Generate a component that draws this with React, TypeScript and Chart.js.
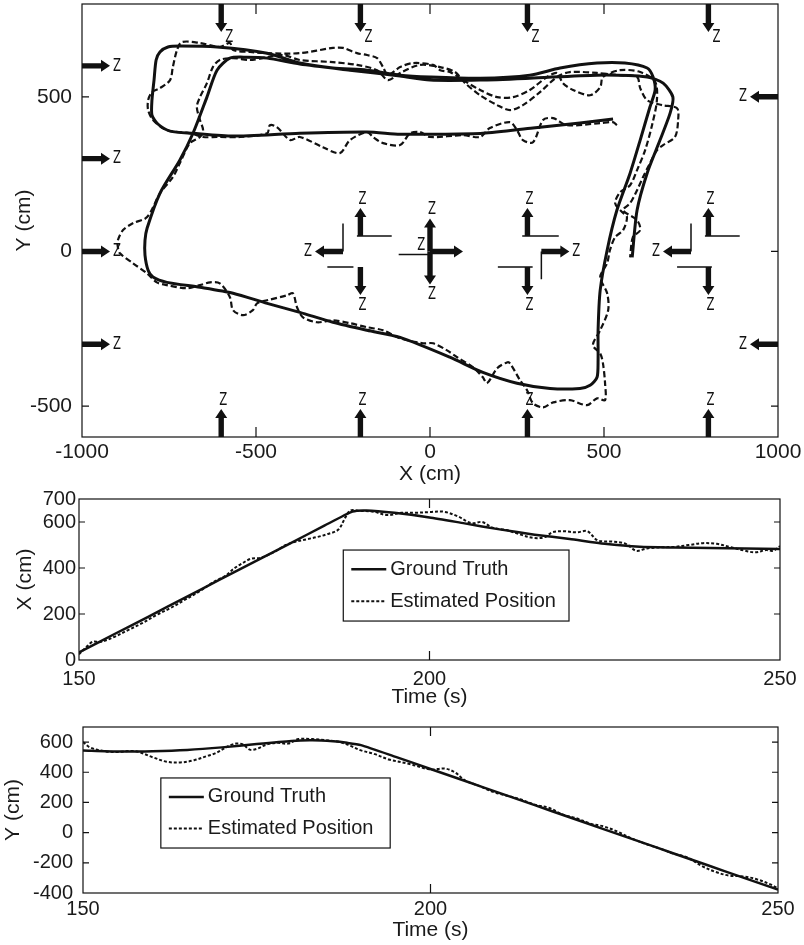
import React, { useEffect, useRef } from 'react';
import { Chart, registerables } from 'chart.js';

Chart.register(...registerables);

const FONT = '"Liberation Sans", Arial, Helvetica, sans-serif';
const Z_FONT = '18px "Liberation Sans Narrow", "DejaVu Sans Condensed", "Liberation Sans", sans-serif';
const INK = '#111111';
const TEXT = '#1a1a1a';

// ---------------- Data: top panel (trajectory, cm) ----------------
const trajXTicks = [-1000, -500, 0, 500, 1000];
const trajYTicks = [-500, 0, 500];

const truthPath: [number, number][] = [
  [526, 428], [431, 415], [296, 399], [152, 382], [29, 379], [-86, 379], [-181, 386], [-374, 382], [-566, 373], [-681, 382],
  [-747, 389], [-782, 412], [-799, 441], [-799, 489], [-793, 554], [-787, 619], [-776, 645], [-753, 661], [-719, 664], [-612, 661],
  [-468, 641], [-374, 609], [-279, 593], [-181, 586], [-86, 570], [0, 564], [144, 560], [287, 570], [374, 593], [480, 609],
  [560, 609], [624, 593], [641, 564], [647, 522], [632, 467], [604, 360], [575, 253], [537, 133], [509, 4], [489, -126],
  [483, -255], [483, -352], [480, -407], [460, -433], [431, -443], [345, -443], [250, -426], [152, -391], [57, -342], [-86, -278],
  [-181, -255], [-279, -229], [-374, -197], [-468, -168], [-566, -135], [-661, -116], [-756, -100], [-796, -83], [-810, -61], [-819, -12],
  [-819, 36], [-813, 75], [-776, 188], [-719, 295], [-681, 382], [-641, 499], [-612, 586], [-575, 625], [-526, 628], [-468, 625],
  [-374, 606], [-230, 586], [-86, 567], [0, 554], [144, 554], [287, 560], [480, 570], [624, 564], [670, 544], [698, 499],
  [690, 447], [661, 360], [624, 253], [595, 133], [581, -19],
];

const estimatedPath: [number, number][] = [
  [537, 408], [526, 418], [489, 415], [394, 408], [354, 431], [325, 425], [296, 353], [267, 360], [250, 392], [230, 418],
  [172, 399], [144, 370], [95, 376], [0, 370], [-29, 386], [-57, 382], [-86, 344], [-135, 350], [-164, 370], [-181, 386],
  [-230, 360], [-259, 318], [-308, 337], [-374, 370], [-402, 360], [-440, 402], [-460, 408], [-468, 382], [-546, 370], [-612, 370],
  [-652, 370], [-690, 382], [-756, 392], [-796, 425], [-810, 457], [-810, 489], [-799, 515], [-776, 528], [-747, 554], [-739, 596],
  [-727, 651], [-713, 677], [-661, 674], [-604, 661], [-575, 674], [-566, 651], [-517, 645], [-468, 641], [-374, 641], [-279, 658],
  [-250, 658], [-210, 641], [-181, 635], [-152, 625], [-135, 596], [-121, 570], [-86, 596], [-49, 609], [9, 603], [29, 586],
  [57, 580], [95, 554], [144, 522], [193, 499], [239, 499], [287, 522], [336, 564], [365, 577], [382, 544], [411, 522],
  [460, 505], [489, 531], [497, 564], [546, 586], [604, 580], [647, 548], [652, 489], [638, 408], [618, 327], [595, 263],
  [575, 214], [546, 191], [532, 156], [552, 127], [566, 111], [555, 69], [532, 46], [517, 4], [509, -38], [489, -83],
  [509, -135], [512, -190], [489, -255], [468, -303], [489, -330], [497, -362], [503, -426], [503, -481], [480, -475], [451, -497],
  [402, -481], [354, -488], [325, -504], [296, -491], [279, -449], [259, -417], [230, -362], [221, -359], [193, -378], [164, -426],
  [152, -407], [124, -375], [78, -342], [49, -320], [9, -297], [-20, -297], [-86, -281], [-135, -255], [-181, -245], [-230, -232],
  [-279, -223], [-325, -229], [-365, -213], [-382, -181], [-394, -135], [-411, -142], [-468, -158], [-497, -168], [-509, -190], [-537, -206],
  [-566, -190], [-575, -148], [-604, -103], [-632, -100], [-661, -109], [-698, -119], [-756, -109], [-785, -100], [-813, -71], [-854, -38],
  [-891, -6], [-897, 14], [-897, 36], [-882, 69], [-854, 91], [-813, 111], [-776, 188], [-739, 240], [-719, 285], [-690, 350],
  [-661, 370], [-652, 392], [-661, 425], [-670, 467], [-661, 499], [-641, 544], [-624, 596], [-604, 619], [-566, 625], [-517, 619],
  [-468, 628], [-422, 635], [-374, 619], [-279, 612], [-210, 603], [-152, 586], [-121, 554], [-86, 577], [-29, 603], [29, 596],
  [72, 580], [101, 544], [144, 505], [193, 473], [230, 457], [267, 473], [316, 515], [365, 564], [402, 580], [480, 577],
  [546, 570], [595, 564], [604, 528], [624, 489], [667, 473], [710, 463], [713, 425], [704, 370], [670, 344], [652, 327],
  [632, 285], [612, 240], [595, 198], [575, 156], [555, 133], [595, 101], [604, 69], [583, 46], [575, -19],
];

// sensor (arrow) locations in cm
const topEdgeSensorX = [-600, -200, 280, 800];
const bottomEdgeSensorX = [-600, -200, 280, 800];
const leftEdgeSensorY = [600, 300, 0, -300];
const rightEdgeSensorY = [500, -300];
const innerSensors: [number, number, string][] = [
  [-200, 50, 'up'], [-200, -50, 'down'], [-250, 0, 'left'],
  [280, 50, 'up'], [280, -50, 'down'], [320, 0, 'right'],
  [800, 50, 'up'], [800, -50, 'down'], [750, 0, 'left'],
];
const crossSensors: [number, number, string, boolean][] = [
  [0, 0, 'up', true], [0, 0, 'down', true], [0, 0, 'right', false],
];
const extraZLabels: [number, number][] = [[-25, 20]];
const wallSegments: [number, number, number, number][] = [
  [-210, 50, -110, 50], [-250, 90, -250, 0], [-295, -50, -220, -50],
  [-90, -10, 0, -10],
  [265, 50, 370, 50], [320, 0, 320, -90], [195, -50, 295, -50],
  [790, 50, 890, 50], [750, 90, 750, 0], [710, -50, 810, -50],
];

// ---------------- Data: X vs time ----------------
const timeTicks = [150, 200, 250];
const xPosTicks = [0, 200, 400, 600, 700];
const tTruthX = [150, 155, 160, 165, 170, 175, 180, 185, 189, 191, 195, 200, 205, 210, 215, 220, 225, 230, 235, 240, 245, 250];
const xTruth = [33, 112, 190, 269, 348, 427, 505, 584, 645, 650, 640, 620, 594, 568, 545, 526, 505, 492, 489, 487, 485, 483];
const tEstX = [150, 151, 152, 153, 155, 157, 159, 161, 163, 165, 167, 169, 170, 171, 172, 173, 174.5, 176, 178, 179.5,
  181, 182.5, 184, 185.5, 187, 188, 188.7, 190, 192, 194, 196, 198, 200, 202, 204, 206, 207.5, 209, 211, 213,
  215, 216.5, 217.5, 219, 221, 222.5, 224, 226, 228, 229.5, 231, 233, 235, 237, 239, 241, 243, 245, 246.5, 248, 249, 250];
const xEst = [25, 55, 80, 78, 100, 130, 160, 195, 225, 260, 295, 335, 352, 368, 395, 415, 440, 445, 472, 500,
  515, 525, 535, 548, 567, 620, 650, 648, 645, 630, 640, 640, 643, 645, 625, 595, 600, 575, 565, 545,
  530, 535, 555, 560, 555, 560, 520, 515, 505, 475, 485, 490, 492, 500, 508, 505, 490, 475, 468, 478, 475, 495];

// ---------------- Data: Y vs time ----------------
const yPosTicks = [-400, -200, 0, 200, 400, 600];
const tTruthY = [150, 155, 160, 165, 170, 175, 180, 183, 186, 188, 190, 195, 200, 205, 210, 215, 220, 225, 230, 235, 240, 245, 250];
const yTruth = [545, 538, 540, 548, 565, 588, 608, 612, 605, 595, 580, 502, 422, 342, 262, 182, 102, 22, -58, -138, -218, -298, -378];
const tEstY = [150, 151, 153, 155, 157.5, 160, 162, 164, 166, 168, 169, 171, 172, 173, 174, 175, 176.5, 178, 179.5, 181,
  183, 185, 187, 188.5, 190, 192, 194, 197, 200, 202, 203.5, 205, 207, 209, 211, 213, 215, 217, 219, 221,
  223, 225, 227, 229, 231, 233, 235, 237, 239, 241, 243, 245, 247, 249, 250];
const yEst = [600, 565, 540, 535, 540, 500, 470, 465, 480, 510, 525, 575, 590, 585, 550, 555, 585, 595, 590, 620,
  620, 612, 600, 575, 545, 520, 485, 455, 418, 425, 400, 345, 310, 270, 245, 220, 185, 165, 120, 95,
  60, 40, 5, -40, -75, -105, -140, -165, -220, -260, -285, -290, -310, -345, -370];

const legendLabels = ['Ground Truth', 'Estimated Position'];

// ---------------- helpers ----------------
const fixY = (w: number) => (s: any) => {
  s.width = w; s.paddingTop = 0; s.paddingBottom = 0; s.paddingLeft = 0; s.paddingRight = 0;
};
const fixX = (h: number) => (s: any) => {
  s.height = h; s.paddingTop = 0; s.paddingBottom = 0; s.paddingLeft = 0; s.paddingRight = 0;
};
const setTicks = (vals: number[]) => (s: any) => { s.ticks = vals.map((v) => ({ value: v })); };

function axis(min: number, max: number, ticks: number[], size: number, isX: boolean, pad: number, title: string,
  titlePad: any, fontSize: number) {
  return {
    type: 'linear',
    min, max,
    afterBuildTicks: setTicks(ticks),
    afterFit: isX ? fixX(size) : fixY(size),
    grid: { display: false, drawTicks: false },
    border: { display: false },
    ticks: {
      autoSkip: false, maxRotation: 0, minRotation: 0, padding: pad,
      color: TEXT, font: { family: FONT, size: fontSize },
      callback: (v: any) => String(v),
    },
    title: { display: true, text: title, color: TEXT, font: { family: FONT, size: 21 }, padding: titlePad },
  };
}

const framePlugin = {
  id: 'frame',
  afterDraw(chart: any, _a: any, o: any) {
    const { ctx, chartArea: a } = chart;
    const xs = chart.scales.x, ys = chart.scales.y;
    ctx.save();
    ctx.strokeStyle = INK;
    ctx.lineWidth = 1.2;
    ctx.strokeRect(a.left, a.top, a.right - a.left, a.bottom - a.top);
    ctx.beginPath();
    xs.ticks.forEach((t: any) => {
      const p = xs.getPixelForValue(t.value);
      if (p <= a.left + 1 || p >= a.right - 1) return;
      ctx.moveTo(p, a.bottom); ctx.lineTo(p, a.bottom - o.xLen);
      ctx.moveTo(p, a.top); ctx.lineTo(p, a.top + o.xLen);
    });
    ys.ticks.forEach((t: any) => {
      const p = ys.getPixelForValue(t.value);
      if (p <= a.top + 1 || p >= a.bottom - 1) return;
      ctx.moveTo(a.left, p); ctx.lineTo(a.left + o.yLen, p);
      ctx.moveTo(a.right, p); ctx.lineTo(a.right - o.yLen, p);
    });
    ctx.stroke();
    ctx.restore();
  },
};

function drawArrow(ctx: CanvasRenderingContext2D, x: number, y: number, dir: string, len: number): [number, number] {
  const d: Record<string, [number, number]> = { up: [0, -1], down: [0, 1], left: [-1, 0], right: [1, 0] };
  const [dx, dy] = d[dir];
  const headLen = 9, headW = 6, shaftW = 2.7;
  const tx = x + dx * len, ty = y + dy * len;
  const bx = tx - dx * headLen, by = ty - dy * headLen;
  const px = -dy, py = dx;
  ctx.beginPath();
  ctx.moveTo(x + px * shaftW, y + py * shaftW);
  ctx.lineTo(bx + px * shaftW, by + py * shaftW);
  ctx.lineTo(bx + px * headW, by + py * headW);
  ctx.lineTo(tx, ty);
  ctx.lineTo(bx - px * headW, by - py * headW);
  ctx.lineTo(bx - px * shaftW, by - py * shaftW);
  ctx.lineTo(x - px * shaftW, y - py * shaftW);
  ctx.closePath();
  ctx.fill();
  return [tx, ty];
}

const EDGE_LEN = 28, INNER_LEN = 28, CROSS_LEN = 33;

const sensorPlugin = {
  id: 'sensors',
  afterDatasetsDraw(chart: any) {
    const { ctx } = chart;
    const xs = chart.scales.x, ys = chart.scales.y;
    const X = (v: number) => xs.getPixelForValue(v);
    const Y = (v: number) => ys.getPixelForValue(v);
    ctx.save();
    ctx.fillStyle = INK;
    ctx.strokeStyle = INK;
    const z = (x: number, y: number) => {
      ctx.save();
      ctx.translate(x, y);
      ctx.scale(0.72, 1);
      ctx.font = Z_FONT;
      ctx.textAlign = 'center';
      ctx.textBaseline = 'middle';
      ctx.fillText('Z', 0, 0);
      ctx.restore();
    };
    const zFor = (dir: string, [tx, ty]: [number, number]) => {
      if (dir === 'up') z(tx + 2, ty - 9);
      else if (dir === 'down') z(tx + 2, ty + 10);
      else if (dir === 'left') z(tx - 7, ty);
      else z(tx + 7, ty);
    };
    ctx.lineWidth = 1.5;
    ctx.beginPath();
    wallSegments.forEach(([x1, y1, x2, y2]) => { ctx.moveTo(X(x1), Y(y1)); ctx.lineTo(X(x2), Y(y2)); });
    ctx.stroke();
    topEdgeSensorX.forEach((v) => { const [tx, ty] = drawArrow(ctx, X(v), Y(ys.max), 'down', EDGE_LEN); z(tx + 8, ty + 5); });
    bottomEdgeSensorX.forEach((v) => zFor('up', drawArrow(ctx, X(v), Y(ys.min), 'up', EDGE_LEN)));
    leftEdgeSensorY.forEach((v) => zFor('right', drawArrow(ctx, X(xs.min), Y(v), 'right', EDGE_LEN)));
    rightEdgeSensorY.forEach((v) => zFor('left', drawArrow(ctx, X(xs.max), Y(v), 'left', EDGE_LEN)));
    innerSensors.forEach(([x, y, dir]) => zFor(dir, drawArrow(ctx, X(x), Y(y), dir, INNER_LEN)));
    crossSensors.forEach(([x, y, dir, lab]) => {
      const tip = drawArrow(ctx, X(x), Y(y), dir, CROSS_LEN);
      if (lab) zFor(dir, tip);
    });
    extraZLabels.forEach(([x, y]) => z(X(x), Y(y)));
    ctx.restore();
  },
};

const boxLegendPlugin = {
  id: 'boxLegend',
  afterDraw(chart: any, _a: any, o: any) {
    const { ctx, chartArea: a } = chart;
    const w = a.right - a.left, h = a.bottom - a.top;
    const L = a.left + o.left * w, R = a.left + o.right * w;
    const T = a.top + o.top * h, B = a.top + o.bottom * h;
    ctx.save();
    ctx.fillStyle = '#ffffff';
    ctx.fillRect(L, T, R - L, B - T);
    ctx.strokeStyle = INK;
    ctx.lineWidth = 1.2;
    ctx.strokeRect(L, T, R - L, B - T);
    const rows = [T + (B - T) * 0.27, T + (B - T) * 0.72];
    chart.data.datasets.forEach((ds: any, i: number) => {
      const y = rows[i];
      ctx.strokeStyle = INK;
      ctx.setLineDash(ds.borderDash || []);
      ctx.lineWidth = ds.borderWidth;
      ctx.beginPath();
      ctx.moveTo(L + 8, y);
      ctx.lineTo(L + 43, y);
      ctx.stroke();
      ctx.setLineDash([]);
      ctx.fillStyle = TEXT;
      ctx.font = `20px ${FONT}`;
      ctx.textAlign = 'left';
      ctx.textBaseline = 'middle';
      ctx.fillText(ds.label, L + 47, y);
    });
    ctx.restore();
  },
};

const baseOptions = {
  responsive: false,
  animation: false,
  events: [],
};

function trajectoryConfig(): any {
  return {
    type: 'scatter',
    data: {
      datasets: [
        { label: legendLabels[0], data: truthPath.map(([x, y]) => ({ x, y })), showLine: true, borderColor: INK, borderWidth: 3, pointRadius: 0, tension: 0.25, fill: false },
        { label: legendLabels[1], data: estimatedPath.map(([x, y]) => ({ x, y })), showLine: true, borderColor: INK, borderWidth: 2.2, borderDash: [6, 3], pointRadius: 0, tension: 0.3, fill: false },
      ],
    },
    options: {
      ...baseOptions,
      layout: { padding: { left: 0, top: 4, right: 26, bottom: 0 } },
      plugins: { legend: { display: false }, tooltip: { enabled: false }, frame: { xLen: 10, yLen: 7 } },
      scales: {
        x: axis(-1000, 1000, trajXTicks, 53, true, 3, 'X (cm)', { top: 0, bottom: 3 }, 21),
        y: axis(-600, 800, trajYTicks, 82, false, 10, 'Y (cm)', { top: 12, bottom: 0 }, 21),
      },
    },
    plugins: [framePlugin, sensorPlugin],
  };
}

function timeConfig(tT: number[], vT: number[], tE: number[], vE: number[], yMin: number, yMax: number, yTicks: number[],
  yTitle: string, dims: any, legendBox: any): any {
  return {
    type: 'scatter',
    data: {
      datasets: [
        { label: legendLabels[0], data: tT.map((t, i) => ({ x: t, y: vT[i] })), showLine: true, borderColor: INK, borderWidth: 2.5, pointRadius: 0, tension: 0.2, fill: false },
        { label: legendLabels[1], data: tE.map((t, i) => ({ x: t, y: vE[i] })), showLine: true, borderColor: INK, borderWidth: 2, borderDash: [3, 2], pointRadius: 0, tension: 0.35, fill: false },
      ],
    },
    options: {
      ...baseOptions,
      layout: { padding: { left: 0, top: dims.top, right: dims.right, bottom: 0 } },
      plugins: { legend: { display: false }, tooltip: { enabled: false }, frame: { xLen: 9, yLen: 6 }, boxLegend: legendBox },
      scales: {
        x: axis(150, 250, timeTicks, dims.xH, true, dims.xPad, 'Time (s)', { top: 0, bottom: dims.xTitlePad }, 20),
        y: axis(yMin, yMax, yTicks, dims.yW, false, dims.yPad, yTitle, { top: dims.yTitlePad, bottom: 0 }, 20),
      },
    },
    plugins: [framePlugin, boxLegendPlugin],
  };
}

function ChartCanvas({ top, width, height, make }: { top: number; width: number; height: number; make: () => any }) {
  const ref = useRef<HTMLCanvasElement>(null);
  useEffect(() => {
    const chart = new Chart(ref.current as HTMLCanvasElement, make());
    return () => chart.destroy();
  }, []);
  return (
    <canvas ref={ref} width={width} height={height}
      style={{ position: 'absolute', left: 0, top, width, height, display: 'block' }} />
  );
}

export default function App() {
  return (
    <div style={{ position: 'absolute', left: 0, top: 0, width: 804, height: 945, background: '#ffffff' }}>
      <ChartCanvas top={0} width={804} height={490} make={trajectoryConfig} />
      <ChartCanvas top={490} width={804} height={220} make={() => timeConfig(
        tTruthX, xTruth, tEstX, xEst, 0, 700, xPosTicks, 'X (cm)',
        { top: 9, right: 24, xH: 50, yW: 79, xPad: 7, yPad: 3, xTitlePad: 0, yTitlePad: 13 },
        { left: 0.377, right: 0.699, top: 0.317, bottom: 0.758 })} />
      <ChartCanvas top={710} width={804} height={235} make={() => timeConfig(
        tTruthY, yTruth, tEstY, yEst, -400, 700, yPosTicks, 'Y (cm)',
        { top: 17, right: 26, xH: 52, yW: 83, xPad: 4, yPad: 10, xTitlePad: 2, yTitlePad: 1 },
        { left: 0.112, right: 0.442, top: 0.307, bottom: 0.729 })} />
    </div>
  );
}
